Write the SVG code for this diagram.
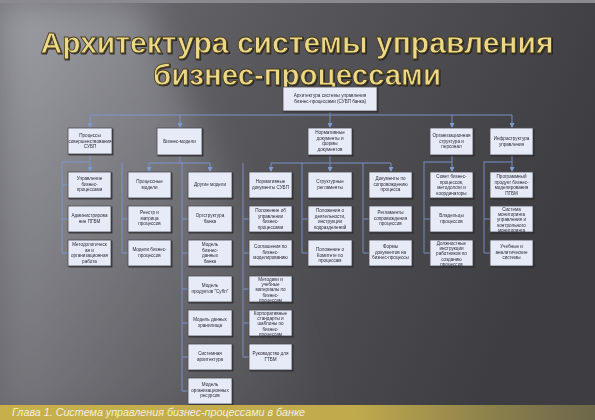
<svg xmlns="http://www.w3.org/2000/svg" width="595" height="420" viewBox="0 0 595 420">
<defs>
<linearGradient id="bg" x1="0" y1="0" x2="1" y2="0.3">
<stop offset="0" stop-color="#727278"/>
<stop offset="0.45" stop-color="#57575c"/>
<stop offset="1" stop-color="#3e3e42"/>
</linearGradient>
<linearGradient id="streak" x1="0" y1="0" x2="1" y2="1">
<stop offset="0" stop-color="#c8c8d0" stop-opacity="0.55"/>
<stop offset="0.6" stop-color="#a0a0a8" stop-opacity="0.25"/>
<stop offset="1" stop-color="#909098" stop-opacity="0"/>
</linearGradient>
<linearGradient id="band" x1="0" y1="0" x2="1" y2="0">
<stop offset="0" stop-color="#c7b04c"/>
<stop offset="0.6" stop-color="#c0aa4c"/>
<stop offset="1" stop-color="#8d8350" stop-opacity="0.6"/>
</linearGradient>
<filter id="blur"><feGaussianBlur stdDeviation="18"/></filter>
<filter id="shadow" x="-10%" y="-10%" width="130%" height="140%"><feDropShadow dx="1" dy="1" stdDeviation="0.6" flood-color="#1a1a1a" flood-opacity="0.8"/></filter>
<marker id="arr" markerWidth="5" markerHeight="5" refX="4" refY="2.5" orient="auto" markerUnits="userSpaceOnUse">
<path d="M0,0 L5,2.5 L0,5 z" fill="#7f9ad0"/>
</marker>
</defs>
<style>
.box{fill:#e7ebf7;stroke:#4a4a4e;stroke-width:0.8}
.t{font-family:"Liberation Sans",Arial,sans-serif;font-size:4.6px;fill:#2a2a35;text-anchor:middle}
.c{fill:none;stroke:#7f9ad0;stroke-width:1.4;stroke-opacity:0.6}
.title{font-family:"Liberation Sans",Arial,sans-serif;font-weight:bold;font-size:29px;fill:#ebd888;stroke:#4a3c18;stroke-width:0.8;text-anchor:middle}
</style>
<rect width="595" height="420" fill="url(#bg)"/>
<polygon points="0,0 140,0 330,420 0,420" fill="url(#streak)" filter="url(#blur)"/>
<rect x="0" y="0" width="595" height="3" fill="#8a8a90"/>
<g id="title" filter="url(#shadow)">
<text class="title" x="297" y="53" textLength="513" lengthAdjust="spacingAndGlyphs">Архитектура системы управления</text>
<text class="title" x="297" y="85" textLength="288" lengthAdjust="spacingAndGlyphs">бизнес-процессами</text>
</g>
<g id="connectors">
<path class="c" d="M330,111 V115 M90,115 H512"/>
<path class="c" marker-end="url(#arr)" d="M90,115 V127"/>
<path class="c" marker-end="url(#arr)" d="M180,115 V127"/>
<path class="c" marker-end="url(#arr)" d="M330,115 V127"/>
<path class="c" marker-end="url(#arr)" d="M452,115 V127"/>
<path class="c" marker-end="url(#arr)" d="M512,115 V127"/>
<path class="c" marker-end="url(#arr)" d="M90,154 V171"/>
<path class="c" d="M90,162 H62 V253 M62,185 H68 M62,219 H68 M62,253 H68"/>
<path class="c" d="M180,155 V163 M149,163 H210"/>
<path class="c" marker-end="url(#arr)" d="M149,163 V171"/>
<path class="c" marker-end="url(#arr)" d="M210,163 V171"/>
<path class="c" d="M122,163 V253 M122,219 H128 M122,253 H128"/>
<path class="c" d="M182,163 V391 M182,219 H188 M182,253 H188 M182,289 H188 M182,323 H188 M182,357 H188 M182,391 H188"/>
<path class="c" d="M330,155 V163 M271,163 H391"/>
<path class="c" marker-end="url(#arr)" d="M271,163 V171"/>
<path class="c" marker-end="url(#arr)" d="M330,163 V171"/>
<path class="c" marker-end="url(#arr)" d="M391,163 V171"/>
<path class="c" d="M243,163 V357 M243,219 H249 M243,253 H249 M243,289 H249 M243,323 H249 M243,357 H249"/>
<path class="c" d="M302,163 V253 M302,219 H308 M302,253 H308"/>
<path class="c" d="M363,163 V253 M363,219 H369 M363,253 H369"/>
<path class="c" marker-end="url(#arr)" d="M452,155 V171"/>
<path class="c" d="M452,162 H424 V253 M424,219 H430 M424,253 H430"/>
<path class="c" marker-end="url(#arr)" d="M512,155 V171"/>
<path class="c" d="M512,162 H484 V253 M484,219 H490 M484,253 H490"/>
</g>
<g id="root" filter="url(#shadow)"><rect class="box" x="283" y="87" width="94" height="24"/><text class="t" y="97"><tspan x="330">Архитектура системы управления</tspan><tspan x="330" dy="6">бизнес-процессами (СУБП банка)</tspan></text></g>
<g id="a" filter="url(#shadow)"><rect class="box" x="68" y="128" width="44" height="26"/><text class="t" y="137"><tspan x="90">Процессы</tspan><tspan x="90" dy="5.5">совершенствования</tspan><tspan x="90" dy="5.5">СУБП</tspan></text></g>
<g id="b" filter="url(#shadow)"><rect class="box" x="157" y="128" width="45" height="27"/><text class="t" y="143"><tspan x="179.5">Бизнес-модели</tspan></text></g>
<g id="c" filter="url(#shadow)"><rect class="box" x="308" y="128" width="44" height="27"/><text class="t" y="134"><tspan x="330">Нормативные</tspan><tspan x="330" dy="5.5">документы и</tspan><tspan x="330" dy="5.5">формы</tspan><tspan x="330" dy="5.5">документов</tspan></text></g>
<g id="d" filter="url(#shadow)"><rect class="box" x="430" y="128" width="43" height="27"/><text class="t" y="137"><tspan x="451.5">Организационная</tspan><tspan x="451.5" dy="5.5">структура и</tspan><tspan x="451.5" dy="5.5">персонал</tspan></text></g>
<g id="e" filter="url(#shadow)"><rect class="box" x="490" y="128" width="43" height="27"/><text class="t" y="140"><tspan x="511.5">Инфраструктура</tspan><tspan x="511.5" dy="5.5">управления</tspan></text></g>
<g id="c1r1" filter="url(#shadow)"><rect class="box" x="68" y="172" width="43" height="26"/><text class="t" y="180"><tspan x="89.5">Управление</tspan><tspan x="89.5" dy="5.5">бизнес-</tspan><tspan x="89.5" dy="5.5">процессами</tspan></text></g>
<g id="c1r2" filter="url(#shadow)"><rect class="box" x="68" y="206" width="43" height="26"/><text class="t" y="217"><tspan x="89.5">Администрирова</tspan><tspan x="89.5" dy="5.5">ние ПГБМ</tspan></text></g>
<g id="c1r3" filter="url(#shadow)"><rect class="box" x="68" y="240" width="43" height="26"/><text class="t" y="246"><tspan x="89.5">Методологическ</tspan><tspan x="89.5" dy="5.5">ая и</tspan><tspan x="89.5" dy="5.5">организационная</tspan><tspan x="89.5" dy="5.5">работа</tspan></text></g>
<g id="c2r1" filter="url(#shadow)"><rect class="box" x="128" y="172" width="43" height="26"/><text class="t" y="183"><tspan x="149.5">Процессные</tspan><tspan x="149.5" dy="5.5">модели</tspan></text></g>
<g id="c2r2" filter="url(#shadow)"><rect class="box" x="128" y="206" width="43" height="26"/><text class="t" y="214"><tspan x="149.5">Реестр и</tspan><tspan x="149.5" dy="5.5">матрица</tspan><tspan x="149.5" dy="5.5">процессов</tspan></text></g>
<g id="c2r3" filter="url(#shadow)"><rect class="box" x="128" y="240" width="43" height="26"/><text class="t" y="251"><tspan x="149.5">Модели бизнес-</tspan><tspan x="149.5" dy="5.5">процессов</tspan></text></g>
<g id="c3r1" filter="url(#shadow)"><rect class="box" x="188" y="172" width="44" height="26"/><text class="t" y="186"><tspan x="210">Другие модели</tspan></text></g>
<g id="c3r2" filter="url(#shadow)"><rect class="box" x="188" y="206" width="44" height="26"/><text class="t" y="217"><tspan x="210">Оргструктура</tspan><tspan x="210" dy="5.5">банка</tspan></text></g>
<g id="c3r3" filter="url(#shadow)"><rect class="box" x="188" y="240" width="44" height="26"/><text class="t" y="246"><tspan x="210">Модель</tspan><tspan x="210" dy="5.5">бизнес-</tspan><tspan x="210" dy="5.5">данных</tspan><tspan x="210" dy="5.5">банка</tspan></text></g>
<g id="c3r4" filter="url(#shadow)"><rect class="box" x="188" y="276" width="44" height="26"/><text class="t" y="287"><tspan x="210">Модель</tspan><tspan x="210" dy="5.5">продуктов "Субп"</tspan></text></g>
<g id="c3r5" filter="url(#shadow)"><rect class="box" x="188" y="310" width="44" height="26"/><text class="t" y="321"><tspan x="210">Модель данных</tspan><tspan x="210" dy="5.5">хранилища</tspan></text></g>
<g id="c3r6" filter="url(#shadow)"><rect class="box" x="188" y="344" width="44" height="26"/><text class="t" y="355"><tspan x="210">Системная</tspan><tspan x="210" dy="5.5">архитектура</tspan></text></g>
<g id="c3r7" filter="url(#shadow)"><rect class="box" x="188" y="378" width="44" height="26"/><text class="t" y="386"><tspan x="210">Модель</tspan><tspan x="210" dy="5.5">организационных</tspan><tspan x="210" dy="5.5">ресурсов</tspan></text></g>
<g id="c4r1" filter="url(#shadow)"><rect class="box" x="249" y="172" width="43" height="26"/><text class="t" y="183"><tspan x="270.5">Нормативные</tspan><tspan x="270.5" dy="5.5">документы СУБП</tspan></text></g>
<g id="c4r2" filter="url(#shadow)"><rect class="box" x="249" y="206" width="43" height="26"/><text class="t" y="212"><tspan x="270.5">Положение об</tspan><tspan x="270.5" dy="5.5">управлении</tspan><tspan x="270.5" dy="5.5">бизнес-</tspan><tspan x="270.5" dy="5.5">процессами</tspan></text></g>
<g id="c4r3" filter="url(#shadow)"><rect class="box" x="249" y="240" width="43" height="26"/><text class="t" y="248"><tspan x="270.5">Соглашения по</tspan><tspan x="270.5" dy="5.5">бизнес-</tspan><tspan x="270.5" dy="5.5">моделированию</tspan></text></g>
<g id="c4r4" filter="url(#shadow)"><rect class="box" x="249" y="276" width="43" height="26"/><text class="t" y="281"><tspan x="270.5">Методики и</tspan><tspan x="270.5" dy="5.2">учебные</tspan><tspan x="270.5" dy="5.2">материалы по</tspan><tspan x="270.5" dy="5.2">бизнес-</tspan><tspan x="270.5" dy="5.2">процессам</tspan></text></g>
<g id="c4r5" filter="url(#shadow)"><rect class="box" x="249" y="310" width="43" height="26"/><text class="t" y="315"><tspan x="270.5">Корпоративные</tspan><tspan x="270.5" dy="5.2">стандарты и</tspan><tspan x="270.5" dy="5.2">шаблоны по</tspan><tspan x="270.5" dy="5.2">бизнес-</tspan><tspan x="270.5" dy="5.2">процессам</tspan></text></g>
<g id="c4r6" filter="url(#shadow)"><rect class="box" x="249" y="344" width="43" height="26"/><text class="t" y="355"><tspan x="270.5">Руководство для</tspan><tspan x="270.5" dy="5.5">ГТБМ</tspan></text></g>
<g id="c5r1" filter="url(#shadow)"><rect class="box" x="308" y="172" width="44" height="26"/><text class="t" y="183"><tspan x="330">Структурные</tspan><tspan x="330" dy="5.5">регламенты</tspan></text></g>
<g id="c5r2" filter="url(#shadow)"><rect class="box" x="308" y="206" width="44" height="26"/><text class="t" y="212"><tspan x="330">Положения о</tspan><tspan x="330" dy="5.5">деятельности,</tspan><tspan x="330" dy="5.5">инструкции</tspan><tspan x="330" dy="5.5">подразделений</tspan></text></g>
<g id="c5r3" filter="url(#shadow)"><rect class="box" x="308" y="240" width="44" height="26"/><text class="t" y="251"><tspan x="330">Положение о</tspan><tspan x="330" dy="5.5">Комитете по</tspan><tspan x="330" dy="5.5">процессам</tspan></text></g>
<g id="c6r1" filter="url(#shadow)"><rect class="box" x="369" y="172" width="43" height="26"/><text class="t" y="180"><tspan x="390.5">Документы по</tspan><tspan x="390.5" dy="5.5">сопровождению</tspan><tspan x="390.5" dy="5.5">процесса</tspan></text></g>
<g id="c6r2" filter="url(#shadow)"><rect class="box" x="369" y="206" width="43" height="26"/><text class="t" y="214"><tspan x="390.5">Регламенты</tspan><tspan x="390.5" dy="5.5">сопровождения</tspan><tspan x="390.5" dy="5.5">процессов</tspan></text></g>
<g id="c6r3" filter="url(#shadow)"><rect class="box" x="369" y="240" width="43" height="26"/><text class="t" y="248"><tspan x="390.5">Формы</tspan><tspan x="390.5" dy="5.5">документов на</tspan><tspan x="390.5" dy="5.5">бизнес-процессы</tspan></text></g>
<g id="c7r1" filter="url(#shadow)"><rect class="box" x="430" y="172" width="43" height="26"/><text class="t" y="178"><tspan x="451.5">Совет бизнес-</tspan><tspan x="451.5" dy="5.5">процессов,</tspan><tspan x="451.5" dy="5.5">методологи и</tspan><tspan x="451.5" dy="5.5">координаторы</tspan></text></g>
<g id="c7r2" filter="url(#shadow)"><rect class="box" x="430" y="206" width="43" height="26"/><text class="t" y="217"><tspan x="451.5">Владельцы</tspan><tspan x="451.5" dy="5.5">процессов</tspan></text></g>
<g id="c7r3" filter="url(#shadow)"><rect class="box" x="430" y="240" width="43" height="26"/><text class="t" y="245"><tspan x="451.5">Должностные</tspan><tspan x="451.5" dy="5.2">инструкции</tspan><tspan x="451.5" dy="5.2">работников по</tspan><tspan x="451.5" dy="5.2">созданию</tspan><tspan x="451.5" dy="5.2">процессов</tspan></text></g>
<g id="c8r1" filter="url(#shadow)"><rect class="box" x="490" y="172" width="43" height="26"/><text class="t" y="178"><tspan x="511.5">Программный</tspan><tspan x="511.5" dy="5.5">продукт бизнес-</tspan><tspan x="511.5" dy="5.5">моделирования</tspan><tspan x="511.5" dy="5.5">ПГБМ</tspan></text></g>
<g id="c8r2" filter="url(#shadow)"><rect class="box" x="490" y="206" width="43" height="26"/><text class="t" y="211"><tspan x="511.5">Система</tspan><tspan x="511.5" dy="5.2">мониторинга</tspan><tspan x="511.5" dy="5.2">управления и</tspan><tspan x="511.5" dy="5.2">контрольного</tspan><tspan x="511.5" dy="5.2">мониторинга</tspan></text></g>
<g id="c8r3" filter="url(#shadow)"><rect class="box" x="490" y="240" width="43" height="26"/><text class="t" y="248"><tspan x="511.5">Учебные и</tspan><tspan x="511.5" dy="5.5">аналитические</tspan><tspan x="511.5" dy="5.5">системы</tspan></text></g>
<g id="footer">
<rect x="0" y="405" width="595" height="15" fill="url(#band)"/>
<text x="12" y="416" font-family="Liberation Sans, Arial, sans-serif" font-size="10" font-style="italic" fill="#f4efd8" textLength="293" lengthAdjust="spacingAndGlyphs">Глава 1. Система управления бизнес-процессами в банке</text>
</g>
</svg>
